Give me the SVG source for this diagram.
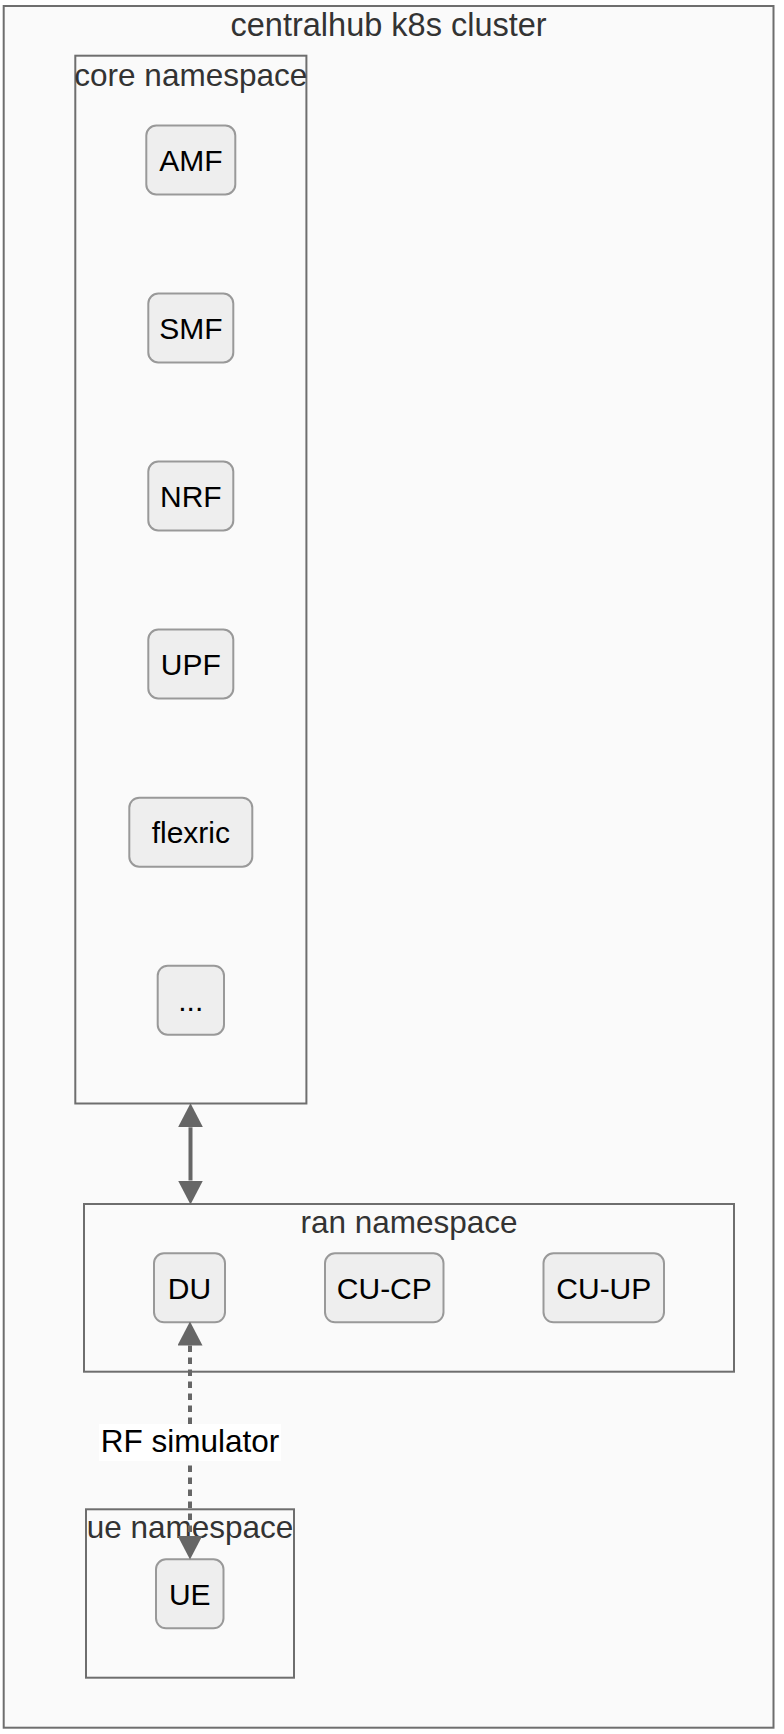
<svg xmlns="http://www.w3.org/2000/svg" width="784" height="1734" viewBox="0 0 784 1734">
<style>
.cluster{fill:#fafafa;stroke:#6e6e6e;stroke-width:2}
.clabel{font-family:"Liberation Sans",Arial,sans-serif;font-size:31.5px;fill:#333;text-anchor:middle}
.title{font-size:32.5px}
.node rect{fill:#eeeeee;stroke:#999;stroke-width:2}
.node text{font-family:"Liberation Sans",Arial,sans-serif;font-size:30px;fill:#000;text-anchor:middle}
.edge{fill:none;stroke:#666;stroke-width:4}
.dotted{stroke-dasharray:6.5 5.5}
.elabel{font-family:"Liberation Sans",Arial,sans-serif;font-size:31.5px;fill:#000;text-anchor:middle}
</style>
<defs>
<marker id="arr" markerUnits="userSpaceOnUse" markerWidth="24" markerHeight="25" viewBox="0 0 24 25" refX="0" refY="12.5" orient="auto-start-reverse">
<path d="M0,0 L24,12.5 L0,25 z" fill="#666"/>
</marker>
</defs>
<rect width="784" height="1734" fill="#ffffff"/>
<g id="cluster-centralhub">
<rect class="cluster" x="3.7" y="6" width="769.8" height="1721.7"/>
<text class="clabel title" x="388.6" y="36">centralhub k8s cluster</text>
</g>
<g id="cluster-core">
<rect class="cluster" x="75.3" y="55.7" width="231.1" height="1047.8"/>
<text class="clabel" x="190.8" y="85.5">core namespace</text>
</g>
<g id="cluster-ran">
<rect class="cluster" x="84" y="1204" width="650" height="167.7"/>
<text class="clabel" x="409" y="1233">ran namespace</text>
</g>
<g id="cluster-ue">
<rect class="cluster" x="86" y="1509.3" width="208" height="168.4"/>
<text class="clabel" x="190" y="1537.5">ue namespace</text>
</g>
<g id="AMF" class="node">
<rect x="146.3" y="125.5" width="89" height="69" rx="10"/>
<text x="190.8" y="171">AMF</text>
</g>
<g id="SMF" class="node">
<rect x="148.3" y="293.5" width="85" height="69" rx="10"/>
<text x="190.8" y="339">SMF</text>
</g>
<g id="NRF" class="node">
<rect x="148.3" y="461.5" width="85" height="69" rx="10"/>
<text x="190.8" y="507">NRF</text>
</g>
<g id="UPF" class="node">
<rect x="148.3" y="629.5" width="85" height="69" rx="10"/>
<text x="190.8" y="675">UPF</text>
</g>
<g id="flexric" class="node">
<rect x="129.3" y="797.7" width="123" height="69" rx="10"/>
<text x="190.8" y="843">flexric</text>
</g>
<g id="more" class="node">
<rect x="157.7" y="965.7" width="66.3" height="69" rx="10"/>
<text x="190.8" y="1011">...</text>
</g>
<g id="DU" class="node">
<rect x="154" y="1253.3" width="71" height="69" rx="10"/>
<text x="189.5" y="1299">DU</text>
</g>
<g id="CU-CP" class="node">
<rect x="325" y="1253.3" width="118.5" height="69" rx="10"/>
<text x="384.3" y="1299">CU-CP</text>
</g>
<g id="CU-UP" class="node">
<rect x="543.5" y="1253.3" width="120.5" height="69" rx="10"/>
<text x="603.8" y="1299">CU-UP</text>
</g>
<g id="UE" class="node">
<rect x="156" y="1559.3" width="67.5" height="69" rx="10"/>
<text x="189.8" y="1605">UE</text>
</g>
<g id="connectors">
<path class="edge" d="M190.5,1127.3 L190.5,1180.5" marker-start="url(#arr)" marker-end="url(#arr)"/>
<path class="edge dotted" d="M190,1345.5 L190,1535.5" marker-start="url(#arr)" marker-end="url(#arr)"/>
<g id="edge-label">
<rect x="99" y="1424" width="182" height="37" fill="#ffffff"/>
<text class="elabel" x="190" y="1452">RF simulator</text>
</g>
</g>
</svg>
